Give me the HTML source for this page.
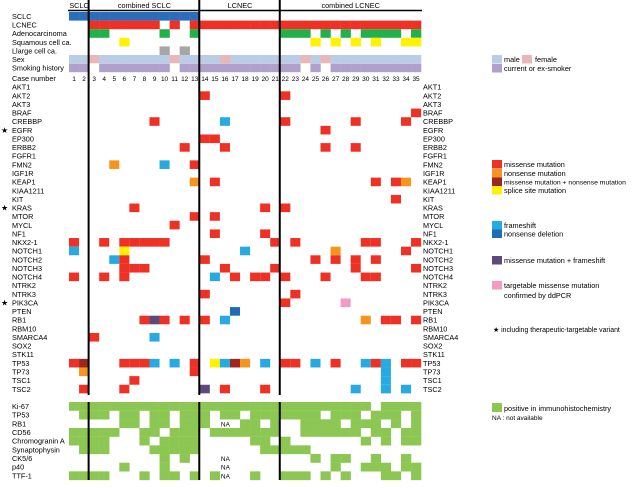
<!DOCTYPE html>
<html><head><meta charset="utf-8">
<style>
html,body{margin:0;padding:0;background:#fff;}
svg{display:block;font-family:"Liberation Sans",sans-serif;}
</style></head>
<body>
<svg id="chart" width="640" height="493" viewBox="0 0 640 493" xmlns="http://www.w3.org/2000/svg"></svg>
<script>
const cases = Array.from({length:35},(_,i)=>String(i+1));
const groupNames = ["SCLC","combined SCLC","LCNEC","combined LCNEC"];
const groupStarts = [1,3,14,22];
const groupEnds = [2,13,21,35];
const histoRows = ["SCLC","LCNEC","Adenocarcinoma","Squamous cell ca.","Llarge cell ca.","Sex","Smoking history"];
const histoSCLC = "11111111111110000000000000000000000";
const histoLCNEC = "00111111101011111111111111111111111";
const histoAdeno = "00110000010010000000011101010111101";
const histoSq = "00000100000000000000000010101010011";
const histoLarge = "00000000010100000000000000000000000";
const sexFemale = "00100000001000010000000101000000000";
const smoker = "11011111110111111111111010111111111";
const genes = ["AKT1","AKT2","AKT3","BRAF","CREBBP","EGFR","EP300","ERBB2","FGFR1","FMN2","IGF1R","KEAP1","KIAA1211","KIT","KRAS","MTOR","MYCL","NF1","NKX2-1","NOTCH1","NOTCH2","NOTCH3","NOTCH4","NTRK2","NTRK3","PIK3CA","PTEN","RB1","RBM10","SMARCA4","SOX2","STK11","TP53","TP73","TSC1","TSC2"];
const starred = ["EGFR","KRAS","PIK3CA"];
const mutations = ["","14m,22m","","35m","9m,16f,22m,29m,34m","26m","14m,15m","12m,16m,26m,29m","","5n,10f,13m","","13n,15m,31m,33m,34n","","33m","7m,20m,22m","13m,15m","11m","15m,20m","1m,4m,6m,7m,8m,9m,10m,21m,23m,30m,31m,35m","1f,6s,18f,27n,34m","5f,6m,14m,25m,27m,29m,31m","6m,7m,8m,16m,21m,29m,35m","1m,4m,6m,15f,17m,19m,20m,22m,26m,30m,31m","","14m,23m","22m,28t","17d","8m,9p,10m,12m,14m,16f,30n,32m,33m,35m","","3m,9f","","","1m,2x,6m,7m,8m,9f,11f,13m,15s,16f,17x,18n,20f,22m,23m,25f,27m,30f,31m,32f,34m,35m","2n,13m,32f","7m,32f","2m,6m,14p,16m,20m,29f,32f,34f"];
const ihcMarkers = ["Ki-67","TP53","RB1","CD56","Chromogranin A","Synaptophysin","CK5/6","p40","TTF-1"];
const ihcValues = [
"11111111111111111111111111111101111",
"01110110110111011011111110111011101",
"00000110110111000110100111101110101",
"11111001101110111111100111111011011",
"11110001011110000011010000000101011",
"01110000111110000001111100000000000",
"00000000010100000000000010110010010",
"00000100010000000000000000100111011",
"11110001011010100010011101010001101"];
const ihcNA = [16];
const ihcNArows = [2,6,7,8];
const typeColors = {m:"#ee3124",n:"#f7941d",x:"#9b2622",s:"#fff200",f:"#27aae1",d:"#1f6cb5",p:"#5c4a7d",t:"#f39bc3"};

const svg = document.getElementById('chart');
const NS = "http://www.w3.org/2000/svg";
const X0 = 69, CW = 10.06, FS = 7.3;
function xCol(c){ return X0 + (c-1)*CW; }
function yHisto(j){ return 12 + j*8.6; }
function yGene(k){ return 87 + k*8.63 - 4.3; }
function yIhc(r){ return 402 + r*8.67; }
function rect(x,y,w,h,fill,name){
  const r=document.createElementNS(NS,'rect');
  r.setAttribute('x',x);r.setAttribute('y',y);r.setAttribute('width',w);r.setAttribute('height',h);r.setAttribute('fill',fill);
  
  
  svg.appendChild(r);return r;
}
function text(x,y,s,name,size,anchor){
  const t=document.createElementNS(NS,'text');
  t.setAttribute('x',x);t.setAttribute('y',y);t.setAttribute('font-size',size||FS);
  if(anchor)t.setAttribute('text-anchor',anchor);
  t.textContent=s;
  
  
  svg.appendChild(t);return t;
}
function line(x1,y1,x2,y2,w,name){
  const l=document.createElementNS(NS,'line');
  l.setAttribute('x1',x1);l.setAttribute('y1',y1);l.setAttribute('x2',x2);l.setAttribute('y2',y2);
  l.setAttribute('stroke','#000');l.setAttribute('stroke-width',w);
  
  
  svg.appendChild(l);
}
groupNames.forEach((g,i)=>{
  text((xCol(groupStarts[i])+xCol(groupEnds[i]+1))/2, 8, g, 'group-header', FS, 'middle');
});
const histoData=[histoSCLC,histoLCNEC,histoAdeno,histoSq,histoLarge];
const histoColors=["#2a6ebb","#ee3124","#22b04b","#fff200","#a6a6a6"];
histoRows.forEach((h,j)=>{ text(12, yHisto(j)+7, h, 'row-label'); });
histoData.forEach((d,j)=>{
  for(let c=1;c<=35;c++) if(d[c-1]==='1') rect(xCol(c),yHisto(j),CW+0.2,8.6,histoColors[j],'histology-cell');
});
for(let c=1;c<=35;c++){
  rect(xCol(c),yHisto(5),CW+0.2,8.3,sexFemale[c-1]==='1'?"#e8b7b8":"#b9cde6",'sex-cell');
  if(smoker[c-1]==='1') rect(xCol(c),yHisto(6),CW+0.2,8.6,"#b1a0cc",'smoking-cell');
}
text(12, 81, 'Case number', 'case-number-label');
cases.forEach((s,i)=>{ text(xCol(i+1)+CW/2, 81, s, 'case-number', 6.5, 'middle'); });
genes.forEach((g,k)=>{
  text(12, yGene(k)+7, g, 'gene-label');
  text(423, yGene(k)+7, g, 'gene-label-right');
  if(starred.includes(g)) text(1, yGene(k)+7, '★', 'target-star', 8);
  if(!mutations[k]) return;
  mutations[k].split(',').forEach(m=>{
    const c=parseInt(m), t=m.replace(/[0-9]/g,'');
    rect(xCol(c),yGene(k),CW,8.6,typeColors[t],'mutation-cell');
  });
});
ihcMarkers.forEach((m,r)=>{
  text(12, yIhc(r)+7, m, 'ihc-label');
  for(let c=1;c<=35;c++){
    if(ihcValues[r][c-1]==='1') rect(xCol(c),yIhc(r),CW+0.2,8.8,"#8dc753",'ihc-cell');
  }
});
ihcNArows.forEach(r=>{ ihcNA.forEach(c=>{ text(xCol(c)+1, yIhc(r)+7, 'NA', 'na-label', 6.5); }); });
line(68,10.5,422,10.5,1.5,'header-line');
[3,14,22].forEach(c=>{
  const x=xCol(c)-0.5;
  line(x,0,x,395,2,'group-divider');
  line(x,402,x,480,2,'group-divider-ihc');
});
rect(492,55,10,8.5,"#b9cde6",'legend-male-swatch');
text(504,62,'male','legend-text');
rect(522,55,10,8.5,"#e8b7b8",'legend-female-swatch');
text(535,62,'female','legend-text');
rect(492,64,10,8.5,"#b1a0cc",'legend-smoker-swatch');
text(504,71,'current or ex-smoker','legend-text');
const legItems=[[160,'m','missense mutation'],[169,'n','nonsense mutation'],[177.5,'x','missense mutation + nonsense mutation'],[186,'s','splice site mutation'],[221,'f','frameshift'],[229.5,'d','nonsense deletion'],[256,'p','missense mutation + frameshift'],[281,'t','targetable missense mutation']];
legItems.forEach(li=>{
  rect(492,li[0],10,8.5,typeColors[li[1]],'legend-swatch');
  text(504,li[0]+7,li[2],'legend-text',li[2].length>30?6.8:FS);
});
text(504,298,'confirmed by ddPCR','legend-text');
text(493,332,'★ including therapeutic-targetable variant','legend-text',6.9);
rect(492,403,10,9,"#8dc753",'legend-ihc-swatch');
text(504,411,'positive in immunohistochemistry','legend-text');
text(492,420,'NA  : not available','legend-text',6.5);
</script>
</body></html>
